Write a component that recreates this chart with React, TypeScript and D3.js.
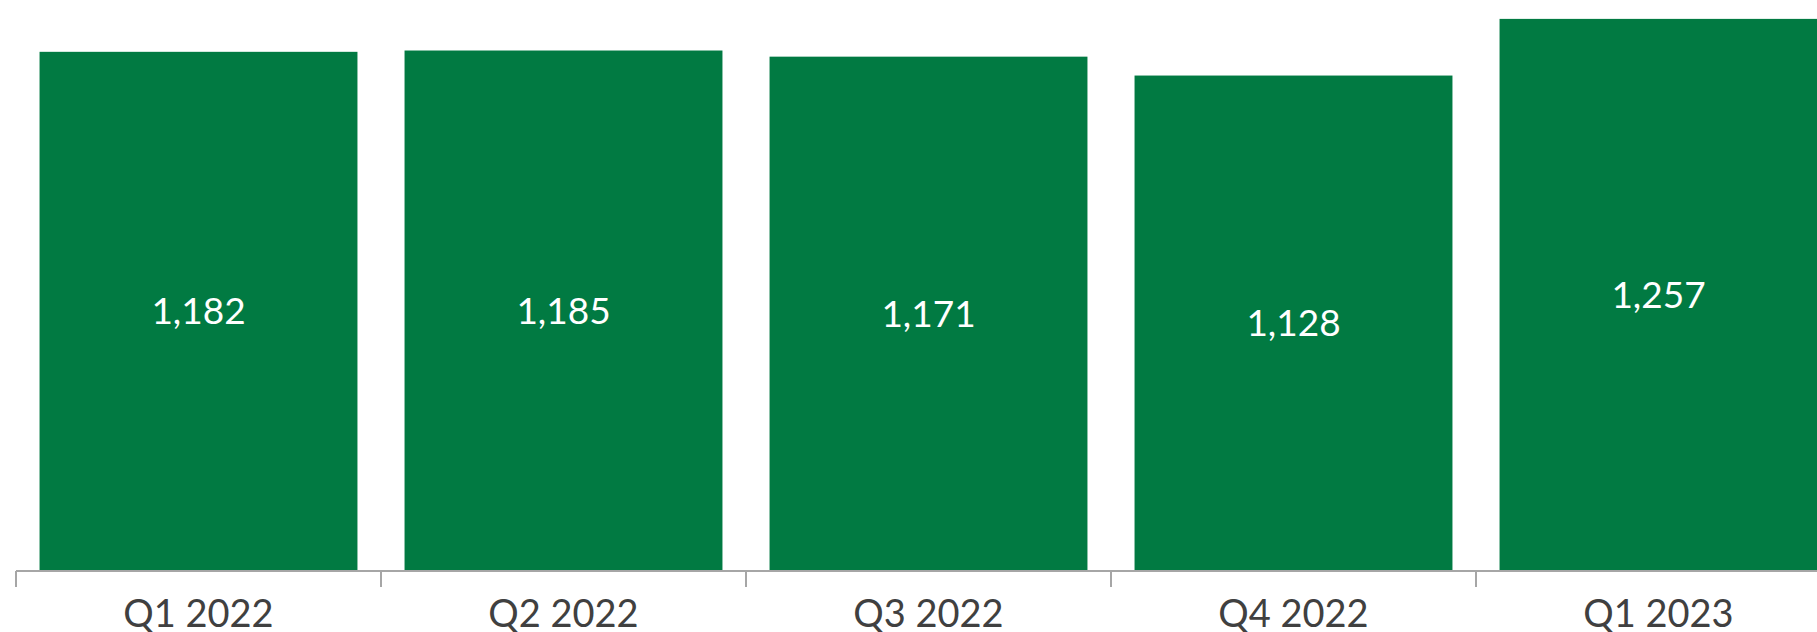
import React from "react";
import * as d3 from "d3";

const categories = ["Q1 2022", "Q2 2022", "Q3 2022", "Q4 2022", "Q1 2023"];
const values = [1182, 1185, 1171, 1128, 1257];

const W = 1817;
const H = 632;

export default function App() {
  const x = d3
    .scaleBand<string>()
    .domain(categories)
    .range([16, 16 + 365 * categories.length])
    .paddingInner(0.129)
    .paddingOuter(0.0645);
  const y = d3.scaleLinear().domain([0, 1300]).range([571, 0]);
  const step = x.step();
  const bandStart = (c: string) => 16 + categories.indexOf(c) * step;
  const font = "Lato, 'Open Sans', sans-serif";

  return (
    <svg
      width={W}
      height={H}
      style={{ position: "fixed", left: 0, top: 0, background: "#fff" }}
    >
      {categories.map((c, i) => {
        const v = values[i];
        const bx = x(c)!;
        const by = y(v);
        const bh = y(0) - by;
        return (
          <g key={c}>
            <rect x={bx} y={by} width={x.bandwidth()} height={bh} fill="#017a42" />
            <text
              x={bx + x.bandwidth() / 2}
              y={by + bh / 2}
              dy="0.35em"
              textAnchor="middle"
              fill="#ffffff"
              fontFamily={font}
              fontWeight={400}
              fontSize={37}
            >
              {d3.format(",")(v)}
            </text>
            <text
              x={bx + x.bandwidth() / 2}
              y={627}
              textAnchor="middle"
              fill="#404040"
              fontFamily={font}
              fontSize={38}
            >
              {c}
            </text>
          </g>
        );
      })}
      <line x1={16} x2={W} y1={y(0)} y2={y(0)} stroke="#a6a6a6" strokeWidth={2} />
      {categories.map((c) => (
        <line
          key={"t" + c}
          x1={bandStart(c)}
          x2={bandStart(c)}
          y1={y(0)}
          y2={587}
          stroke="#a6a6a6"
          strokeWidth={2}
        />
      ))}
    </svg>
  );
}
